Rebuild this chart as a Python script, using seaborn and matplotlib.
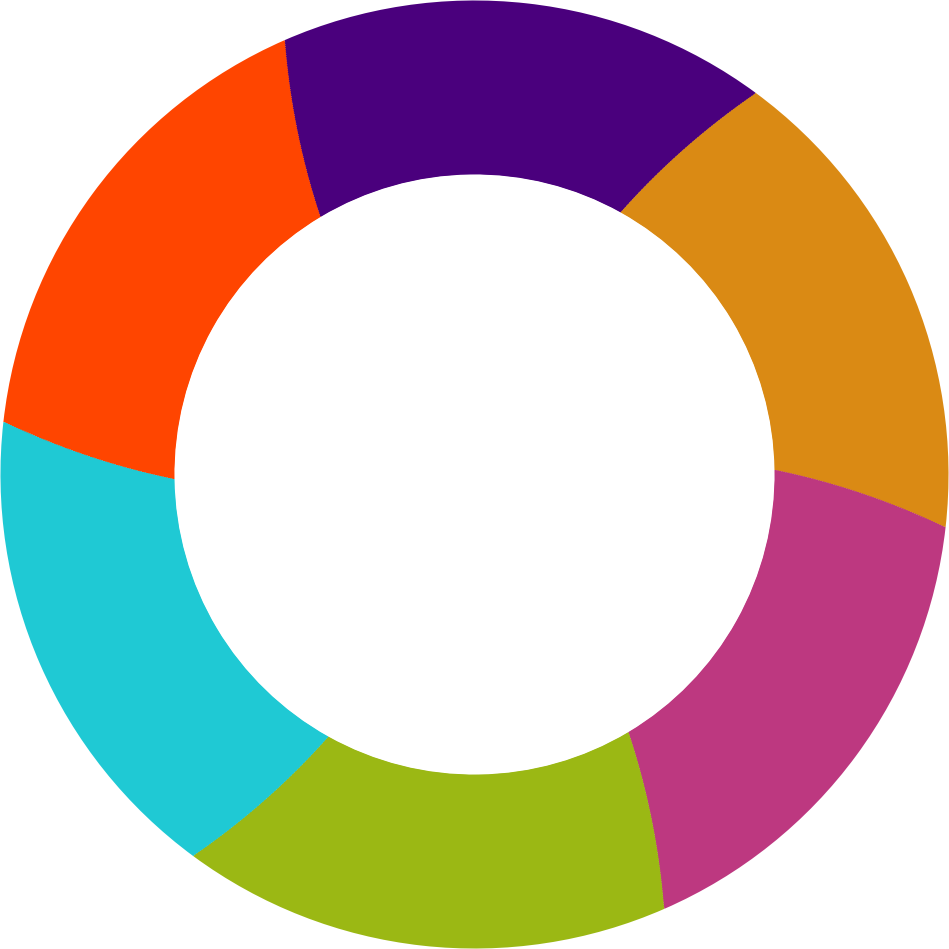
import numpy as np
import matplotlib
matplotlib.use("Agg")
import matplotlib.pyplot as plt
import seaborn as sns

sns.set_theme(style="white")

categories = ["Gold", "Indigo", "Orange Red", "Cyan", "Yellow Green", "Magenta"]
values = [1, 1, 1, 1, 1, 1]
colors = ["#DA8A14", "#4A007D", "#FF4500", "#1FC9D4", "#9BB814", "#BD3880"]
palette = sns.color_palette(colors)

fig = plt.figure(figsize=(9.49, 9.49), dpi=100)
ax = fig.add_axes([0, 0, 1, 1])

r_in, r_out = 0.633, 1.0
twist = 7.3          # degrees of swirl from outer to inner edge
start_outer = -6.4
n_rings = 80
radii = np.linspace(r_out, r_in, n_rings + 1)[:-1]
dr = (r_out - r_in) / n_rings
for r in radii:
    frac = (r_out - (r - dr / 2)) / (r_out - r_in)
    start = start_outer + twist * frac
    w = min(dr * 1.8, r - r_in)
    ax.pie(values, colors=palette, radius=r, startangle=start, counterclock=True,
           wedgeprops=dict(width=w, linewidth=0, edgecolor="none", antialiased=True))

ax.set_xlim(-1.001, 1.001)
ax.set_ylim(-1.001, 1.001)
ax.set_aspect("equal")
ax.axis("off")
fig.savefig("out.png", dpi=100, facecolor="white")
